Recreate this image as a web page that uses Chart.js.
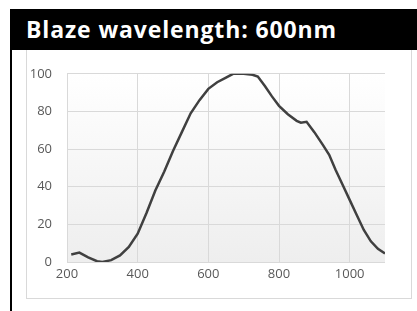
<!DOCTYPE html>
<html>
<head>
<meta charset="utf-8">
<script src="https://cdn.jsdelivr.net/npm/chart.js@4"></script>
<style>
  html, body { margin: 0; padding: 0; background: #fff; }
  body { width: 417px; height: 311px; position: relative; overflow: hidden; }
  #head {
    position: absolute; left: 10px; top: 9px; width: 407px; height: 41px;
    background: #000; color: #fff;
    font: bold 23px "Open Sans", sans-serif; line-height: 40px;
    box-sizing: border-box; padding-left: 16px; white-space: nowrap;
  }
  #edge { position: absolute; left: 10px; top: 50px; width: 2px; height: 261px; background: #000; }
  #box {
    position: absolute; left: 26px; top: 48px; width: 386px; height: 251px;
    box-sizing: border-box; border: 1px solid #d9d9d9; background: #fff;
  }
  #wrap { position: absolute; left: 0; top: 2px; width: 384px; height: 246px; }
</style>
</head>
<body>
<div id="box"><div id="wrap"><canvas id="blaze"></canvas></div></div>
<div id="head"><span id="title">Blaze wavelength: 600nm</span></div>
<div id="edge"></div>
<script>
    // Efficiency curve
    var wavelengths = [212, 235, 260, 285, 300, 325, 350, 375, 400, 425, 450, 475, 500, 525, 550, 575, 600, 625, 650, 670, 700, 725, 740, 760, 780, 800, 825, 850, 862, 878, 900, 925, 942, 960, 980, 1000, 1020, 1040, 1060, 1080, 1100];
    var efficiency = [4, 5, 2.5, 0.4, 0, 1, 3.5, 8, 15, 26, 38, 48, 59, 69, 79, 86, 92, 95.5, 98, 100, 100, 99.5, 98.5, 93.5, 88, 83, 78.5, 75, 74, 74.5, 69, 62, 57, 49, 41, 33, 25, 17, 11, 7, 4.5];
    var xTicks = [200, 400, 600, 800, 1000];
    var yTicks = [0, 20, 40, 60, 80, 100];

    // stretch the heading to the width it has in the picture
    var title = document.getElementById("title");
    var txt = title.textContent;
    var extra = (311 - title.getBoundingClientRect().width) / txt.length;
    title.style.letterSpacing = extra + "px";

    var points = wavelengths.map(function (w, i) { return { x: w, y: efficiency[i] }; });

    var plotShade = {
        id: "plotShade",
        beforeDraw: function (chart) {
            var a = chart.chartArea, c = chart.ctx;
            var g = c.createLinearGradient(0, a.top, 0, a.bottom);
            g.addColorStop(0, "#ffffff");
            g.addColorStop(1, "#eeeeee");
            c.save();
            c.fillStyle = g;
            c.fillRect(a.left, a.top, a.right - a.left, a.bottom - a.top);
            c.restore();
        }
    };

    var ctx = document.getElementById("blaze").getContext("2d");
    var myChart = new Chart(ctx, {
        type: "line",
        data: {
            datasets: [{
                label: "Efficiency",
                data: points,
                borderColor: "#404040",
                borderWidth: 2.5,
                pointRadius: 0,
                tension: 0,
                fill: false
            }]
        },
        options: {
            responsive: true,
            maintainAspectRatio: false,
            animation: false,
            layout: { padding: { top: 16, right: 26, bottom: 13, left: 0 } },
            plugins: { legend: { display: false }, tooltip: { enabled: false } },
            scales: {
                x: {
                    type: "linear",
                    min: 200,
                    max: 1100,
                    afterBuildTicks: function (s) { s.ticks = xTicks.map(function (v) { return { value: v }; }); },
                    afterFit: function (s) { s.height = 22; },
                    grid: { color: "#d9d9d9", drawTicks: false },
                    border: { display: false },
                    ticks: {
                        color: "#595959", padding: 4, maxRotation: 0,
                        font: { family: "Open Sans", size: 13 },
                        callback: function (v) { return String(v); }
                    }
                },
                y: {
                    min: 0,
                    max: 100,
                    afterBuildTicks: function (s) { s.ticks = yTicks.map(function (v) { return { value: v }; }); },
                    afterFit: function (s) { s.width = 40; },
                    grid: { color: "#d9d9d9", drawTicks: false },
                    border: { display: false },
                    ticks: { color: "#595959", padding: 15, font: { family: "Open Sans", size: 13 } }
                }
            }
        },
        plugins: [plotShade]
    });
</script>
</body>
</html>
